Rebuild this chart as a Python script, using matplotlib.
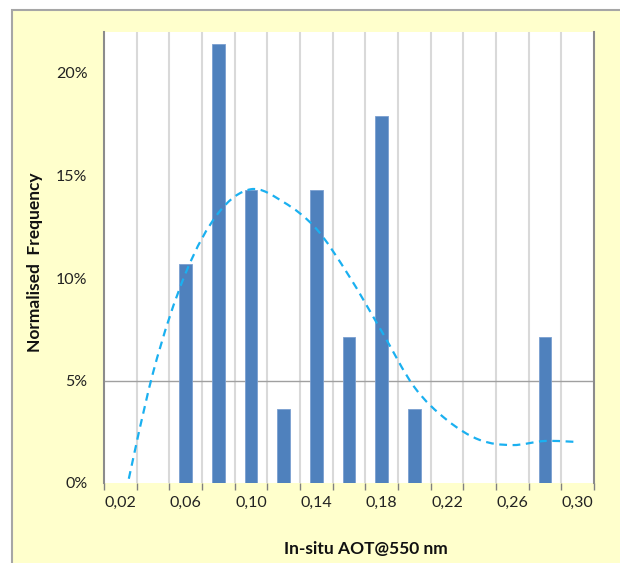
import numpy as np
import matplotlib
matplotlib.use('Agg')
import matplotlib.pyplot as plt
from matplotlib.patches import Rectangle, PathPatch
from matplotlib.path import Path

# ---- data ----
aot = ['0,02', '0,04', '0,06', '0,08', '0,10', '0,12', '0,14', '0,16',
       '0,18', '0,20', '0,22', '0,24', '0,26', '0,28', '0,30']
freq = [0.0, 0.0, 0.107, 0.214, 0.143, 0.036, 0.143, 0.071,
        0.179, 0.036, 0.0, 0.0, 0.0, 0.071, 0.0]
fit = [-0.017, 0.0537, 0.1024, 0.1317, 0.1433, 0.137, 0.124, 0.101,
       0.074, 0.0468, 0.0307, 0.021, 0.0185, 0.0205, 0.020]
ytick_vals = [0.0, 0.05, 0.10, 0.15, 0.20]
ytick_labels = ['0%', '5%', '10%', '15%', '20%']

plt.rcParams['font.family'] = ['Lato', 'DejaVu Sans']

def smooth_path(xs, ys):
    # excel-like smoothed line : catmull-rom segments as cubic beziers
    pts = np.column_stack([xs, ys])
    n = len(pts)
    verts = [pts[0]]
    codes = [Path.MOVETO]
    for i in range(n - 1):
        p0 = pts[max(i - 1, 0)]
        p1 = pts[i]
        p2 = pts[i + 1]
        p3 = pts[min(i + 2, n - 1)]
        verts += [p1 + (p2 - p0) / 6.0, p2 - (p3 - p1) / 6.0, p2]
        codes += [Path.CURVE4] * 3
    return Path(verts, codes)

def main():
    fig = plt.figure(figsize=(6.2, 5.63), dpi=100)
    fig.patch.set_facecolor('white')
    #
    # yellow chart area with grey border (behind the axes)
    #
    bg = Rectangle((12/620, -0.05), 1.0, 1.05 - 9.5/563,
                   transform=fig.transFigure, facecolor='#FFFFCC',
                   edgecolor='#A6A6A6', linewidth=1.5, zorder=-10)
    fig.add_artist(bg)
    #
    ax = fig.add_axes([104/620, 1 - 483/563, 490/620, (483 - 32)/563])
    ax.set_facecolor('white')
    #
    x = np.arange(len(aot))
    ax.bar(x, freq, width=0.39, color='#4F81BD', edgecolor='#7A9FD0',
           linewidth=0.6, zorder=3)
    #
    path = smooth_path(x.astype(float), np.array(fit))
    ax.add_patch(PathPatch(path, facecolor='none', edgecolor='#1AB0F0',
                           linewidth=1.6, linestyle=(0, (3.5, 2.5)), zorder=4))
    #
    ax.set_xlim(-0.5, len(aot) - 0.5)
    ax.set_ylim(0, 0.22)
    #
    # vertical gridlines at category boundaries
    bounds = np.arange(len(aot) + 1) - 0.5
    for b in bounds[1:-1]:
        ax.axvline(b, color='#D9D9D9', linewidth=1.5, zorder=1)
    ax.axhline(0.05, color='#A0A0A0', linewidth=1.0, zorder=2)
    #
    ax.set_xticks(bounds)
    ax.set_xticklabels([])
    ax.set_xticks(x[::2], minor=True)
    ax.set_xticklabels(aot[::2], minor=True)
    ax.tick_params(axis='x', which='major', length=5, color='#808080', width=1)
    ax.tick_params(axis='x', which='minor', length=0, pad=9, labelsize=11.5,
                   labelcolor='#222222')
    #
    ax.set_yticks(ytick_vals)
    ax.set_yticklabels(ytick_labels)
    ax.set_yticks([0.05], minor=True)
    ax.tick_params(axis='y', which='major', length=0, pad=12, labelsize=11.5,
                   labelcolor='#222222')
    ax.tick_params(axis='y', which='minor', length=5, color='#808080')
    #
    for s in ['top', 'bottom']:
        ax.spines[s].set_visible(False)
    ax.spines['left'].set_color('#8C8C8C')
    ax.spines['left'].set_linewidth(1.5)
    ax.spines['right'].set_color('#8C8C8C')
    ax.spines['right'].set_linewidth(1.5)
    #
    fig.text(35/620, 1 - 262/563, 'Normalised  Frequency', rotation=90,
             ha='center', va='center', fontsize=12.5, fontweight='bold',
             color='#111111')
    fig.text(366/620, 1 - 549/563, 'In-situ AOT@550 nm', ha='center',
             va='center', fontsize=12.5, fontweight='bold', color='#111111')
    #
    plt.savefig('out.png', dpi=100)
    plt.close()

if __name__ == "__main__":
    main()
